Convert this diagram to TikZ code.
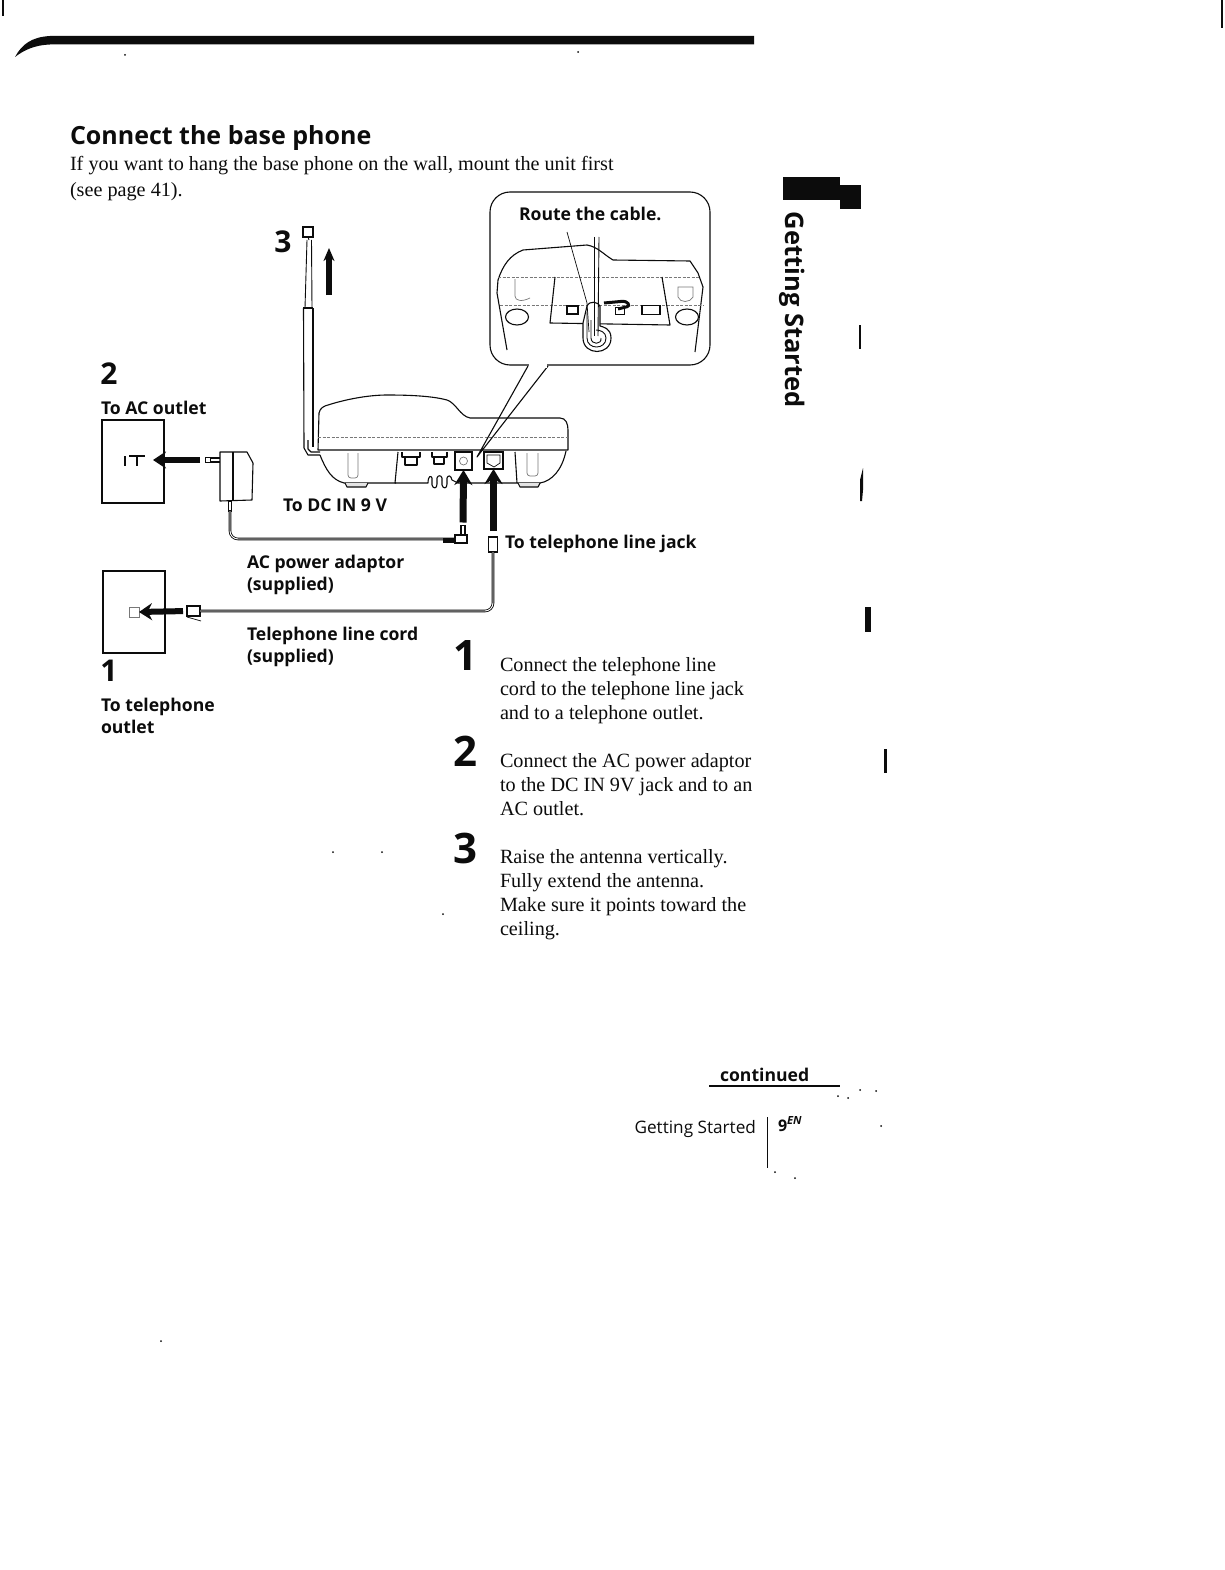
\documentclass[tikz,border=0pt]{standalone}
\usepackage{fontspec}
\usepackage{tikz}
\usetikzlibrary{arrows.meta,positioning,calc,shapes.geometric}
\setmainfont{Liberation Serif}
\newfontfamily\labelsans{Open Sans}
\definecolor{inkblack}{RGB}{12,12,12}
\definecolor{softgrey}{RGB}{120,120,120}
\newcommand{\headfont}{\labelsans\bfseries\fontsize{25}{28}\selectfont}
\newcommand{\calloutfont}{\labelsans\bfseries\fontsize{17.6}{22}\selectfont}
\newcommand{\bodyfont}{\fontsize{20.2}{24}\selectfont}
\newcommand{\leftnumfont}{\labelsans\bfseries\fontsize{30}{30}\selectfont}
\newcommand{\stepnumfont}{\labelsans\bfseries\fontsize{42}{42}\selectfont}

\begin{document}
\begin{tikzpicture}[x=1pt,y=-1pt,
    every node/.style={inner sep=0pt,outer sep=0pt,text=inkblack},
    outline/.style={draw=inkblack,line width=1.1pt,line join=round},
    thinline/.style={draw=inkblack,line width=0.9pt},
    faintline/.style={draw=softgrey,line width=0.7pt},
    dottedline/.style={draw=softgrey,line width=0.7pt,dash pattern=on 3pt off 1.5pt},
    cordline/.style={draw=inkblack,line width=2.6pt,rounded corners=8pt},
    cordinner/.style={draw=white,line width=0.9pt,rounded corners=8pt},
    bigarrow/.style={draw=inkblack,line width=7pt,-{Stealth[length=15pt,width=18pt]}},
    plate/.style={draw=inkblack,line width=1.1pt,fill=white,minimum width=62pt},
    jackbox/.style={draw=inkblack,line width=1.2pt,fill=white},
    plugbox/.style={draw=inkblack,line width=1.1pt,fill=white},
    caption/.style={font=\calloutfont,align=left,anchor=north west},
    stepnum/.style={font=\stepnumfont,anchor=center},
    leftnum/.style={font=\leftnumfont,anchor=center},
    steptext/.style={font=\bodyfont,align=left,anchor=north west}]
    \useasboundingbox (0,0) rectangle (1224,1570);
    \fill[white] (0,0) rectangle (1224,1570);

    \fill[inkblack] (15,57) .. controls (22,44) and (32,37) .. (50,36) -- (754,36) -- (754,44.5) -- (50,44.5) .. controls (35,45) and (24,50) .. (15,57) -- cycle;
    \fill[inkblack] (2,0) rectangle (4,16);
    \fill[inkblack] (1221,0) rectangle (1223,28);

    \node[font=\headfont,anchor=base west] (heading) at (70,145) {Connect the base phone};
    \node[steptext] (intro) at (70,156) {If you want to hang the base phone on the wall, mount the unit first\\[2pt](see page 41).};

    \node[draw=inkblack,line width=1.1pt,rounded corners=20pt,minimum width=220pt,minimum height=173pt,anchor=north west] (callout) at (490,192) {};
    \node[font=\calloutfont,anchor=base west] (route) at (519,221) {Route the cable.};
    \draw[outline] (507,350) -- (497,293) -- (498,280) .. controls (503,265) and (510,255) .. (523,250) -- (587,245) .. controls (598,247) and (603,254) .. (613,260) -- (690,261) -- (698,273) -- (703,287) -- (695,352);
    \draw[dottedline] (498,277) -- (700,277);
    \draw[dottedline] (500,305) -- (704,305);
    \draw[outline] (555,277) -- (550,323) -- (670,325) -- (662,277);
    \draw[faintline] (515,279) -- (515,296) .. controls (515,301) and (522,302) .. (530,298);
    \draw[faintline] (678,287) -- (678,297) .. controls (680,303) and (690,303) .. (693,297) -- (693,287) -- cycle;
    \node[draw=inkblack,line width=1.1pt,ellipse,fill=white,minimum width=23pt,minimum height=16pt] (leftfoot) at (517,317) {};
    \node[draw=inkblack,line width=1.1pt,ellipse,fill=white,minimum width=23pt,minimum height=16pt] (rightfoot) at (687,317) {};
    \node[plugbox,minimum width=11pt,minimum height=8pt] (insetjacka) at (572.5,310) {};
    \node[plugbox,minimum width=18pt,minimum height=9pt] (insetjackb) at (651,310) {};
    \node[plugbox,minimum width=9pt,minimum height=7pt] (insetjackc) at (620,311) {};
    \draw[inkblack,line width=3pt,rounded corners=3pt] (604,303) -- (626,301) -- (630,306) -- (618,309);
    \draw[outline,fill=white] (583,323) -- (583,338) .. controls (583,356) and (611,356) .. (611,338) .. controls (611,328) and (603,327) .. (600,326) -- (600,306) .. controls (598,302) and (590,300) .. (587,306) -- cycle;
    \draw[thinline] (587,312) -- (587,338) .. controls (587,350) and (606,350) .. (606,338) .. controls (606,332) and (600,330) .. (596,330);
    \draw[thinline] (591,320) -- (591,338) .. controls (591,345) and (602,345) .. (601,338);
    \coordinate (cablestart) at (594.5,237);
    \coordinate (cableend) at (594.5,336);
    \draw[thinline] (cablestart) -- (cableend);
    \draw[thinline] ($(cablestart)+(4.5,0)$) -- ($(cableend)+(3.5,0)$);
    \coordinate (leadstart) at (567,232);
    \coordinate (leadend) at (589,332);
    \draw[thinline,line width=0.7pt] (leadstart) -- (587,303) -- (leadend);

    \node[draw=inkblack,line width=1.1pt,minimum width=10pt,minimum height=10pt,anchor=north west] (antcap) at (303,227) {};
    \draw[thinline] (307,240) -- (305,308);
    \draw[thinline] (311.5,240) -- (312,308);
    \draw[thinline] (antcap.south) -- (309,240);
    \draw[outline] (303,308) -- (313,308);
    \draw[outline] (303.5,308) -- (304,448) -- (308,455) -- (320,455);
    \draw[outline] (313,308) -- (313,447);
    \draw[outline] (308,440) -- (308,449) -- (311,452) -- (320,452);
    \node[leftnum] (numthree) at (283,242) {3};
    \coordinate (antarrowstart) at (329,295);
    \coordinate (antarrowend) at (329,248);
    \draw[draw=inkblack,line width=6.5pt,-{Stealth[length=13pt,width=11pt]}] (antarrowstart) -- (antarrowend);

    \draw[outline] (318,450) -- (319,413) .. controls (320,408) and (324,406) .. (328,405) .. controls (350,398) and (372,395) .. (387,395) .. controls (410,395) and (432,396) .. (447,400) .. controls (456,403) and (460,416) .. (470,418) -- (560,418) .. controls (566,418) and (568,424) .. (568,430) -- (568,450) -- cycle;
    \draw[dottedline] (318,437) -- (568,437);
    \draw[outline] (320,455) .. controls (326,470) and (332,480) .. (344,483) -- (396,483);
    \draw[outline] (398,452) -- (395,483) -- (428,483) .. controls (428,476) and (431,475) .. (432,478) -- (432,485) .. controls (433,489) and (437,489) .. (437,484) -- (437,478) .. controls (438,475) and (441,475) .. (442,478) -- (442,485) .. controls (443,489) and (447,489) .. (447,484) -- (447,478) .. controls (448,475) and (451,475) .. (452,480) -- (458,483) -- (517,483) -- (515,452);
    \draw[outline] (517,483) -- (540,483) .. controls (552,481) and (562,470) .. (566,451);
    \draw[outline,fill=white!80!softgrey] (345,483) -- (347,487) -- (366,487) -- (368,483);
    \draw[outline,fill=white!80!softgrey] (518,483) -- (520,487) -- (538,487) -- (540,483);
    \draw[faintline,rounded corners=3pt] (348,453) -- (348,478) -- (358,478) -- (358,453);
    \draw[faintline,rounded corners=3pt] (527,453) -- (527,476) -- (538,476) -- (538,453);
    \draw[outline] (402,452) -- (402,457) -- (420,457) -- (420,452);
    \draw[outline] (405,457) -- (405,465) -- (417,465) -- (417,457);
    \draw[outline] (432,452) -- (432,457) -- (447,457) -- (447,452);
    \draw[outline] (434,457) -- (434,464) -- (444,464) -- (444,457);
    \node[jackbox,minimum width=17pt,minimum height=18pt] (dcjack) at (463.5,461) {};
    \node[draw=softgrey,line width=0.7pt,circle,minimum size=8pt] (dcring) at (463.5,461) {};
    \node[jackbox,minimum width=19pt,minimum height=17pt] (linejack) at (493.5,460.5) {};
    \draw[thinline,line width=0.7pt] (487,455) -- (500,455) -- (500,463) -- (494,467) -- (487,463) -- cycle;
    \draw[outline] (528,366) -- (477,457) -- (548,366);
    \fill[white] (529,363) rectangle (547,367.5);

    \node[leftnum] (numtwo) at (109,374) {2};
    \node[font=\calloutfont,anchor=base west] (acoutlet) at (101,414) {To AC outlet};
    \node[plate,minimum height=83pt,anchor=north west] (acplate) at (102,420) {};
    \draw[thinline,line width=1.4pt] (125,456) -- (125,466);
    \draw[thinline,line width=1.4pt] (129,456) -- (145,456);
    \draw[thinline,line width=1.4pt] (137,456) -- (137,466);

    \draw[outline,fill=white] (220,452) -- (247,452) -- (253,463) -- (252,500) -- (220,501) -- cycle;
    \draw[outline] (233,452) -- (233,501);
    \node[plugbox,minimum width=5pt,minimum height=5pt] (prong) at (208,460) {};
    \draw[outline] (211,458) -- (220,458);
    \draw[outline] (211,462) -- (220,462);
    \coordinate (acarrowstart) at (200,460);
    \draw[bigarrow,line width=6pt,-{Stealth[length=13pt,width=17pt]}] (acarrowstart) -- (acplate.east |- acarrowstart) -- ++(-11,0);

    \node[plugbox,minimum width=3pt,minimum height=10pt] (adaptorneck) at (230,506) {};
    \node[plugbox,minimum width=12pt,minimum height=8pt] (dcplug) at (461,539) {};
    \node[plugbox,minimum width=4pt,minimum height=9pt] (dcpin) at (463,530) {};
    \draw[cordline] (adaptorneck.south) |- (dcplug.west);
    \draw[cordinner] (adaptorneck.south) |- (dcplug.west);
    \fill[inkblack] (443,537.5) rectangle (455,542.5);
    \draw[bigarrow,shorten <=3pt] (dcpin.north) -- (dcjack.south);
    \node[font=\calloutfont,anchor=base west] (dcin) at (283,511) {To DC IN 9 V};

    \node[caption] (adaptorcap) at (247,555) {AC power adaptor\\(supplied)};

    \node[plugbox,minimum width=9pt,minimum height=15pt] (lineplug) at (493,544.5) {};
    \coordinate (linearrowstart) at (493.5,531);
    \draw[bigarrow] (linearrowstart) -- (linejack.south);
    \node[font=\calloutfont,anchor=base west] (linecap) at (505,548) {To telephone line jack};

    \node[plate,minimum height=82pt,anchor=north west] (telplate) at (103,571) {};
    \node[draw=softgrey,line width=0.7pt,minimum width=10pt,minimum height=10pt] (telsocket) at (134,612) {};
    \node[plugbox,minimum width=13pt,minimum height=10pt] (telplug) at (193.5,611) {};
    \draw[thinline,line width=0.7pt] (187,617) -- (201,621);
    \draw[bigarrow,line width=6pt,-{Stealth[length=13pt,width=17pt]},shorten <=4pt] (telplug.west) -- (telsocket.east);
    \draw[cordline] (telplug.east) -| (lineplug.south);
    \draw[cordinner] (telplug.east) -| (lineplug.south);

    \node[caption] (cordcap) at (247,627) {Telephone line cord\\(supplied)};
    \node[leftnum] (numone) at (109,671) {1};
    \node[caption] (telcap) at (101,698) {To telephone\\outlet};

    \node[stepnum] (stepone) at (465,656) {1};
    \node[steptext] (steponetext) at (500,657) {Connect the telephone line\\cord to the telephone line jack\\and to a telephone outlet.};
    \node[stepnum] (steptwo) at (465,751) {2};
    \node[steptext] (steptwotext) at (500,753) {Connect the AC power adaptor\\to the DC IN 9V jack and to an\\AC outlet.};
    \node[stepnum] (stepthree) at (465,848) {3};
    \node[steptext] (stepthreetext) at (500,849) {Raise the antenna vertically.\\Fully extend the antenna.\\Make sure it points toward the\\ceiling.};

    \node[font=\calloutfont,anchor=base west] (continued) at (720,1081) {continued};
    \draw[inkblack,line width=2pt] (709,1086) -- (840,1086);
    \node[font=\labelsans\fontsize{17.2}{22}\selectfont,anchor=base east] (footer) at (756,1133) {Getting Started};
    \draw[inkblack,line width=1pt] (767,1117) -- (767,1168);
    \node[font=\labelsans\bfseries\fontsize{16}{18}\selectfont,anchor=base west] (pagenum) at (778,1131) {9\textsuperscript{\textit{EN}}};

    \fill[inkblack] (783,177) rectangle (840,200);
    \fill[inkblack] (840,185) rectangle (861,209);
    \node[font=\labelsans\bfseries\fontsize{25.5}{27}\selectfont,rotate=-90,anchor=west] (sidetab) at (792,212) {Getting Started};

    \fill[inkblack] (859,325) rectangle (861,349);
    \fill[inkblack] (860,480) -- (863,468) -- (863,490) -- (862,501) -- (860,501) -- cycle;
    \fill[inkblack] (865,607) rectangle (871,632);
    \fill[inkblack] (884,749) rectangle (887,773);
    \foreach \sx/\sy in {125/55,578/52,333/852,382/852,443/914,161/1341,881/1126,775/1172,795/1178,838/1096,848/1098,860/1090,876/1091}
        \fill[inkblack] (\sx,\sy) circle (1pt);
\end{tikzpicture}
\end{document}
